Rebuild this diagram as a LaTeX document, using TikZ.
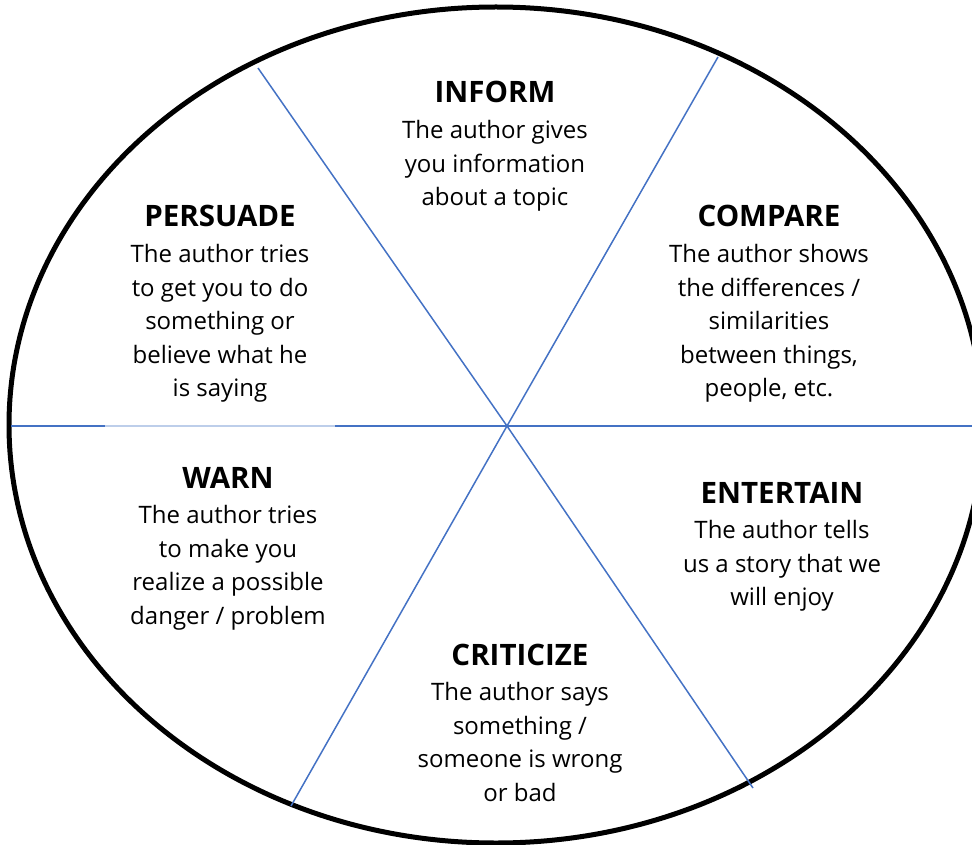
\documentclass[tikz,border=0pt]{standalone}
\usepackage{fontspec}
\setmainfont{Open Sans}
\usetikzlibrary{positioning}
\definecolor{azul}{HTML}{4472C4}
\begin{document}
\begin{tikzpicture}[x=1pt,y=-1pt,
    linea/.style={azul,line width=1.5pt},
    titulo/.style={anchor=base,inner sep=0pt,font=\bfseries\fontsize{29.5}{33.5}\selectfont},
    texto/.style={align=center,inner sep=0pt,font=\fontsize{24}{33.5}\selectfont}]
    % Marco
    \useasboundingbox (0,0) rectangle (972,845);
    \clip (0,0) rectangle (972,845);

    % Elipse
    \draw[line width=5pt] (496,425) ellipse [x radius=487, y radius=418];

    % Puntos de las lineas
    \coordinate (centro) at (507,426);
    \coordinate (sup-izq) at (258,68);
    \coordinate (inf-der) at (753,788);
    \coordinate (sup-der) at (718,57);
    \coordinate (inf-izq) at (291,806);
    \coordinate (izq) at (11,426);
    \coordinate (der) at (972,426);
    \coordinate (claro-a) at (105,426);
    \coordinate (claro-b) at (335,426);

    % Lineas divisorias
    \draw[linea] (sup-izq) -- (centro) -- (inf-der);
    \draw[linea] (sup-der) -- (centro) -- (inf-izq);
    \draw[linea] (izq) -- (claro-a);
    \draw[azul!35,line width=1.5pt] (claro-a) -- (claro-b);
    \draw[linea] (claro-b) -- (der);

    % Titulos
    \node[titulo] (inform) at (495,103) {INFORM};
    \node[titulo] (persuade) at (220,227) {PERSUADE};
    \node[titulo] (compare) at (769,227) {COMPARE};
    \node[titulo] (warn) at (228,488) {WARN};
    \node[titulo] (entertain) at (782,503) {ENTERTAIN};
    \node[titulo] (criticize) at (520,665) {CRITICIZE};

    % Textos
    \node[texto,below=17pt of inform] (inform-txt) {The author gives\\you information\\about a topic};
    \node[texto,below=17pt of persuade] (persuade-txt) {The author tries\\to get you to do\\something or\\believe what he\\is saying};
    \node[texto,below=17pt of compare] (compare-txt) {The author shows\\the differences /\\similarities\\between things,\\people, etc.};
    \node[texto,below=17pt of warn] (warn-txt) {The author tries\\to make you\\realize a possible\\danger / problem};
    \node[texto,below=17pt of entertain] (entertain-txt) {The author tells\\us a story that we\\will enjoy};
    \node[texto,below=17pt of criticize] (criticize-txt) {The author says\\something /\\someone is wrong\\or bad};
\end{tikzpicture}
\end{document}
